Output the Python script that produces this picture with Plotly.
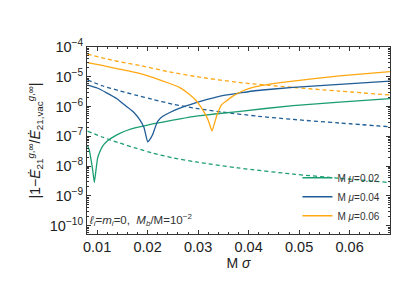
import plotly.graph_objects as go

# ---------------- data ----------------
x_g_solid = [0.0081, 0.0085, 0.0088, 0.0091, 0.00945, 0.0098, 0.0101, 0.0106, 0.0111, 0.0117, 0.0124,
             0.0134, 0.0144, 0.0160, 0.0177, 0.0210, 0.0250, 0.0296, 0.0379, 0.0488, 0.058, 0.068]
y_g_solid = [4.9e-8, 3.2e-8, 1.66e-8, 7.9e-9, 2.8e-9, 7.9e-9, 1.86e-8, 3.2e-8, 4.7e-8, 6.2e-8, 7.8e-8,
             1.0e-7, 1.23e-7, 1.6e-7, 1.95e-7, 2.6e-7, 3.5e-7, 4.8e-7, 6.8e-7, 1.08e-6, 1.4e-6, 1.86e-6]

x_g_dash = [0.0081, 0.0110, 0.0144, 0.0177, 0.0210, 0.0250, 0.0296, 0.0379, 0.0488, 0.058, 0.068]
y_g_dash = [1.5e-7, 9.5e-8, 6.0e-8, 4.0e-8, 2.75e-8, 1.9e-8, 1.38e-8, 8.7e-9, 5.4e-9, 3.9e-9, 2.8e-9]

x_b_solid = [0.0081, 0.0100, 0.0118, 0.0140, 0.0157, 0.0172, 0.0184, 0.0193, 0.0200, 0.0204, 0.0210,
             0.0215, 0.0220, 0.0230, 0.0243, 0.0260, 0.0276, 0.0296, 0.0320, 0.0346, 0.0380, 0.0412,
             0.0488, 0.058, 0.068]
y_b_solid = [5.2e-6, 4.2e-6, 2.95e-6, 1.8e-6, 1.05e-6, 6.6e-7, 3.7e-7, 1.95e-7, 6.5e-8, 7.6e-8, 1.15e-7,
             2.0e-7, 3.2e-7, 4.7e-7, 6.2e-7, 8.3e-7, 1.05e-6, 1.35e-6, 1.78e-6, 2.3e-6, 2.8e-6, 3.4e-6,
             4.4e-6, 5.6e-6, 7.2e-6]

x_b_dash = [0.0081, 0.0110, 0.0144, 0.0177, 0.0210, 0.0250, 0.0296, 0.0346, 0.0420, 0.0488, 0.058, 0.068]
y_b_dash = [7.8e-6, 5.0e-6, 3.4e-6, 2.4e-6, 1.74e-6, 1.2e-6, 8.7e-7, 6.6e-7, 4.7e-7, 3.7e-7, 2.8e-7, 2.1e-7]

x_o_solid = [0.0081, 0.0110, 0.0144, 0.0180, 0.0210, 0.0240, 0.0263, 0.0280, 0.0296, 0.0305, 0.0313,
             0.0320, 0.03275, 0.0337, 0.0346, 0.0355, 0.0368, 0.0389, 0.0412, 0.0445, 0.0488,
             0.058, 0.068]
y_o_solid = [3.0e-5, 2.4e-5, 1.8e-5, 1.35e-5, 9.5e-6, 6.3e-6, 4.4e-6, 2.8e-6, 1.6e-6, 1.0e-6, 6.0e-7,
             3.5e-7, 1.5e-7, 5.0e-7, 1.12e-6, 1.5e-6, 2.2e-6, 3.4e-6, 4.6e-6, 5.8e-6, 7.2e-6,
             1.07e-5, 1.5e-5]

x_o_dash = [0.0081, 0.0130, 0.0187, 0.0240, 0.0296, 0.0379, 0.0488, 0.058, 0.068]
y_o_dash = [5.8e-5, 3.6e-5, 2.35e-5, 1.5e-5, 1.02e-5, 6.5e-6, 4.4e-6, 3.3e-6, 2.45e-6]

series_names = ["M <i>μ</i>=0.02", "M <i>μ</i>=0.04", "M <i>μ</i>=0.06"]
colors = ["#1b9e6f", "#1f5d96", "#ffa812"]

y_tickvals = [1e-10, 1e-9, 1e-8, 1e-7, 1e-6, 1e-5, 1e-4]
y_ticktext = ["10<sup>−10</sup>", "10<sup>−9</sup>", "10<sup>−8</sup>", "10<sup>−7</sup>",
              "10<sup>−6</sup>", "10<sup>−5</sup>", "10<sup>−4</sup>"]
x_tickvals = [0.01, 0.02, 0.03, 0.04, 0.05, 0.06]
x_ticktext = ["0.01", "0.02", "0.03", "0.04", "0.05", "0.06"]

# ---------------- figure ----------------
FONT = "Liberation Sans, Arial, sans-serif"
fig = go.Figure()

solids = [(x_g_solid, y_g_solid), (x_b_solid, y_b_solid), (x_o_solid, y_o_solid)]
dashes = [(x_g_dash, y_g_dash), (x_b_dash, y_b_dash), (x_o_dash, y_o_dash)]

for (xd, yd), c in zip(dashes, colors):
    fig.add_trace(go.Scatter(x=xd, y=yd, mode="lines", showlegend=False,
                             line=dict(color=c, width=1.3, dash="4px,3px", shape="spline", smoothing=0.8)))
for (xs, ys), c, n in zip(solids, colors, series_names):
    fig.add_trace(go.Scatter(x=xs, y=ys, mode="lines", name=n,
                             line=dict(color=c, width=1.3, shape="spline", smoothing=0.3)))

minor_y = [m * 10.0 ** k for k in range(-11, -3) for m in range(2, 10)]

fig.update_layout(
    width=399, height=283,
    margin=dict(l=79, r=17, t=39, b=57),
    paper_bgcolor="white", plot_bgcolor="white",
    font=dict(family=FONT, size=14, color="#222"),
    legend=dict(x=0.985, y=0.02, xanchor="right", yanchor="bottom",
                bgcolor="rgba(0,0,0,0)", font=dict(size=10, color="#333"),
                itemwidth=30, tracegroupgap=0),
    annotations=[dict(xref="paper", yref="paper", x=0.0, y=0.075, xanchor="left", yanchor="middle",
                      showarrow=False, font=dict(size=11.5, color="#333"),
                      text="<i>ℓ<sub>i</sub></i>=<i>m<sub>i</sub></i>=0,  <i>M<sub>b</sub></i>/M=10<sup>−2</sup>")],
)

fig.update_xaxes(range=[0.008, 0.068], tickvals=x_tickvals, ticktext=x_ticktext,
                 ticks="inside", ticklen=4, tickcolor="#333", showline=True, linecolor="#333",
                 linewidth=1, mirror="ticks", showgrid=False, zeroline=False,
                 minor=dict(dtick=0.002, tick0=0, ticks="inside", ticklen=2, tickcolor="#333", showgrid=False),
                 title=dict(text="M <i>σ</i>", font=dict(size=14), standoff=0),
                 tickfont=dict(size=14.5))

fig.update_yaxes(type="log", range=[-10.28, -4.0], tickvals=y_tickvals, ticktext=y_ticktext,
                 ticks="inside", ticklen=4, tickcolor="#333", showline=True, linecolor="#333",
                 linewidth=1, mirror="ticks", showgrid=False, zeroline=False,
                 minor=dict(tickvals=minor_y, ticks="inside", ticklen=2, tickcolor="#333", showgrid=False),
                 title=dict(text="|1−<i>Ė</i><sub>21</sub><sup><i>g</i>,∞</sup>/<i>Ė</i><sub>21,vac</sub><sup><i>g</i>,∞</sup>|",
                            font=dict(size=14), standoff=5),
                 tickfont=dict(size=14.5))

fig.write_html("out.html")
